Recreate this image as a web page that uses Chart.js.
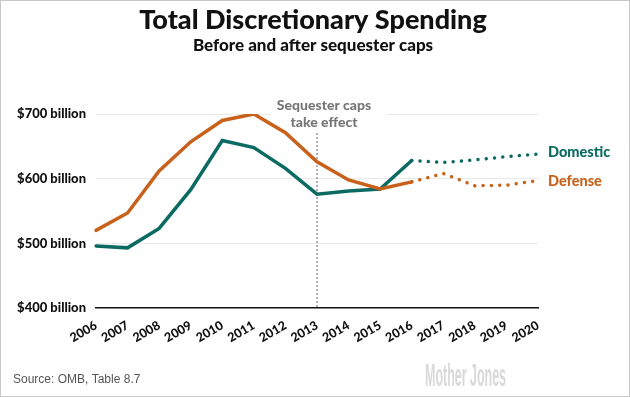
<!DOCTYPE html>
<html>
<head>
<meta charset="utf-8">
<script src="https://cdn.jsdelivr.net/npm/chart.js@4"></script>
<style>
  body { margin: 0; background: #fff; }
  #wrap { width: 630px; height: 397px; position: relative; }
</style>
</head>
<body>
<div id="wrap"><canvas id="spending"></canvas></div>
<script>
const years = ["2006","2007","2008","2009","2010","2011","2012","2013","2014","2015","2016","2017","2018","2019","2020"];
const domestic = [496, 493, 523, 583, 659, 648, 616, 576, 581, 584, 628, 625, 629, 634, 638];
const defense = [520, 547, 612, 657, 690, 700, 671, 626, 598, 584, 595, 608, 589, 590, 597];
const yTicks = [400, 500, 600, 700];
const lastActual = 10; // 2016, projections after this are dotted
const capsYear = "2013";

const teal = "#0b6b63";
const orange = "#c8611b";

const dotted = ctx => ctx.p0DataIndex >= lastActual ? [0.01, 8.3] : undefined;

// titles, notes, labels and frame
const extras = {
  id: "extras",
  beforeDraw(chart) {
    const c = chart.ctx;
    c.save();
    c.fillStyle = "#fff";
    c.fillRect(0, 0, chart.width, chart.height);
    c.restore();
  },
  beforeDatasetsDraw(chart) {
    const c = chart.ctx, x = chart.scales.x, y = chart.scales.y;
    const px = x.getPixelForValue(years.indexOf(capsYear));
    c.save();
    // white box behind note so the gridline breaks
    c.fillStyle = "#fff";
    c.fillRect(px - 46, 96, 116, 34);
    c.strokeStyle = "#999";
    c.lineWidth = 1.5;
    c.setLineDash([2, 2]);
    c.beginPath();
    c.moveTo(px, 133);
    c.lineTo(px, y.bottom);
    c.stroke();
    c.setLineDash([]);
    c.fillStyle = "#777";
    c.font = "900 14px Lato";
    c.textAlign = "center";
    c.textBaseline = "middle";
    c.fillText("Sequester caps", px + 7, 105);
    c.fillText("take effect", px + 7, 122);
    c.restore();
  },
  afterDraw(chart) {
    const c = chart.ctx, x = chart.scales.x, y = chart.scales.y;
    const last = years.length - 1;
    c.save();
    c.textBaseline = "middle";
    c.textAlign = "center";
    c.fillStyle = "#111";
    c.font = "900 27px Lato";
    c.fillText("Total Discretionary Spending", 313, 20);
    c.font = "900 17px Lato";
    c.fillText("Before and after sequester caps", 313, 46);

    c.textAlign = "left";
    c.font = "900 14.5px Lato";
    c.fillStyle = teal;
    c.fillText("Domestic", x.right + 10, y.getPixelForValue(domestic[last]) - 2);
    c.fillStyle = orange;
    c.fillText("Defense", x.right + 10, y.getPixelForValue(defense[last]) + 1);

    c.fillStyle = "#555";
    c.font = "12px 'Liberation Sans'";
    c.fillText("Source: OMB, Table 8.7", 13, 380);

    // watermark, squeezed to a condensed look
    c.fillStyle = "#d9d9d9";
    c.font = "bold 32px 'Liberation Sans Narrow', 'Liberation Sans'";
    const w = c.measureText("Mother Jones").width;
    c.textBaseline = "alphabetic";
    c.translate(425, 386);
    c.scale(81 / w, 1);
    c.fillText("Mother Jones", 0, 0);
    c.restore();

    c.save();
    c.strokeStyle = "#c8c8c8";
    c.lineWidth = 1;
    c.strokeRect(0.5, 0.5, chart.width - 1, chart.height - 1);
    c.restore();
  }
};

new Chart(document.getElementById("spending"), {
  type: "line",
  data: {
    labels: years,
    datasets: [{
      label: "Defense",
      data: defense,
      borderColor: orange,
      borderWidth: 3.5,
      borderCapStyle: "round",
      pointRadius: 0,
      tension: 0,
      segment: { borderDash: dotted }
    }, {
      label: "Domestic",
      data: domestic,
      borderColor: teal,
      borderWidth: 3.5,
      borderCapStyle: "round",
      pointRadius: 0,
      tension: 0,
      segment: { borderDash: dotted }
    }]
  },
  options: {
    responsive: true,
    maintainAspectRatio: false,
    animation: false,
    layout: { padding: { top: 114, right: 92, bottom: 0, left: 0 } },
    plugins: { legend: { display: false }, tooltip: { enabled: false } },
    scales: {
      x: {
        offset: false,
        grid: { display: false },
        border: { color: "#111", width: 1.5 },
        afterFit: s => { s.height = 89; },
        ticks: {
          autoSkip: false,
          minRotation: 30, maxRotation: 30, padding: 2,
          color: "#111",
          font: { family: "Lato", weight: "900", size: 12.5 }
        }
      },
      y: {
        min: 400, max: 700,
        afterFit: s => { s.width = 96; },
        afterBuildTicks: s => { s.ticks = yTicks.map(v => ({ value: v })); },
        border: { display: false },
        grid: {
          color: ctx => ctx.tick && ctx.tick.value === 400 ? "rgba(0,0,0,0)" : "#e9e9e9",
          lineWidth: 1,
          drawTicks: false
        },
        ticks: {
          padding: 10,
          color: "#111",
          font: { family: "Lato", weight: "900", size: 13 },
          callback: v => "$" + v + " billion"
        }
      }
    }
  },
  plugins: [extras]
});
</script>
</body>
</html>
